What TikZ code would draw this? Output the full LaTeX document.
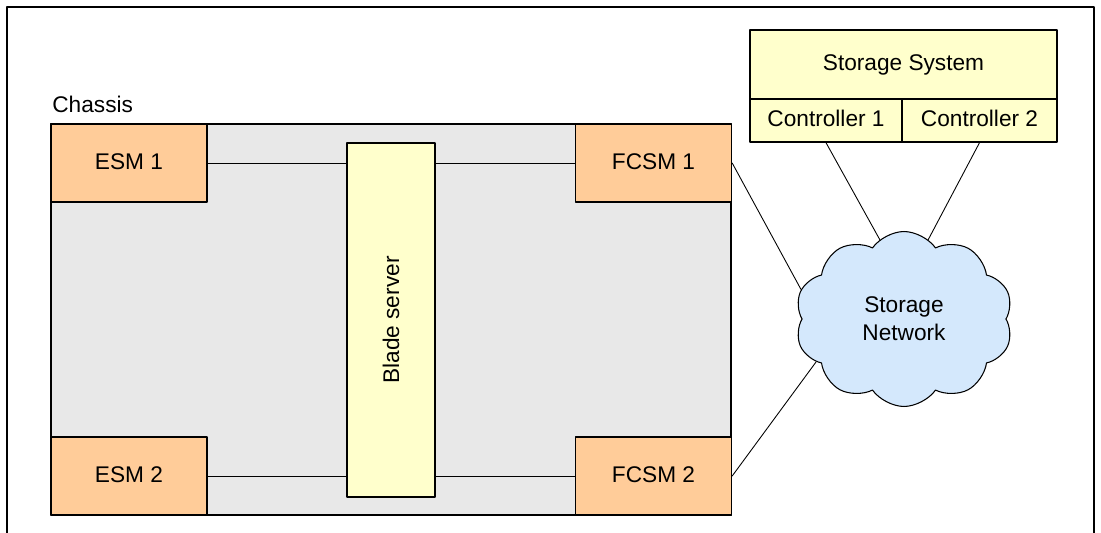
\documentclass[tikz,border=0pt]{standalone}
\usepackage{fontspec}
\setmainfont{Liberation Sans}
\usetikzlibrary{shapes.symbols}
\definecolor{modfill}{HTML}{FFCC99}
\definecolor{srvfill}{HTML}{FFFFCC}
\definecolor{chfill}{HTML}{E8E8E8}
\definecolor{netfill}{HTML}{D4E8FC}
\tikzset{
  box/.style={draw=black, line width=0.8pt, inner sep=0pt, text height=0.72em, text depth=0pt,
              font=\fontsize{12.9}{15}\selectfont},
  module/.style={box, fill=modfill, minimum width=3.12cm, minimum height=1.56cm},
  ctrl/.style={box, fill=srvfill, minimum height=0.86cm},
  wire/.style={draw=black, line width=0.5pt}
}
\begin{document}
\begin{tikzpicture}[x=0.02cm, y=-0.02cm, line cap=round, line join=round]
  % Page size in pixels of the reference
  \def\pw{1101} \def\ph{533}
  \useasboundingbox (0,0) rectangle (\pw,\ph);

  % Open frame (no bottom edge)
  \draw[line width=0.7pt] (7,\ph) -- (7,7) -- (1094,7) -- (1094,\ph);

  % Chassis with its label
  \node[box, fill=chfill, minimum width=13.6cm, minimum height=7.82cm] (chassis) at (391,319.5) {};
  \node[anchor=base west, inner sep=0pt, font=\fontsize{12.9}{15}\selectfont] (chlabel) at (52,113) {Chassis};

  % Switch modules in the four corners
  \node[module] (esm1) at (129,163) {ESM 1};
  \node[module] (esm2) at (129,476) {ESM 2};
  \node[module] (fcsm1) at (653.5,163) {FCSM 1};
  \node[module] (fcsm2) at (653.5,476) {FCSM 2};

  % Blade server in the middle
  \node[box, fill=srvfill, minimum width=1.76cm, minimum height=7.08cm] (blade) at (391,320) {};
  \node[rotate=90, font=\fontsize{12.9}{15}\selectfont] (bladetxt) at (blade.center) {Blade server};

  % Storage system and its two controllers
  \node[box, fill=srvfill, minimum width=6.14cm, minimum height=1.38cm] (storage) at (903.5,64.5) {Storage System};
  \node[ctrl, minimum width=3.04cm] (ctrl1) at (826,120.5) {Controller 1};
  \node[ctrl, minimum width=3.1cm] (ctrl2) at (979.5,120.5) {Controller 2};

  % Storage network cloud
  \node[cloud, cloud puffs=10, cloud puff arc=110, aspect=1.25, draw=black, line width=0.6pt,
        fill=netfill, minimum width=4.36cm, minimum height=3.5cm, inner sep=0pt, align=center,
        font=\fontsize{12.9}{15.9}\selectfont] (net) at (904,319) {Storage\\Network};

  % Links inside the chassis
  \draw[wire] (esm1.east) -- (esm1.east -| blade.west);
  \draw[wire] (esm2.east) -- (esm2.east -| blade.west);
  \draw[wire] (blade.east |- fcsm1.west) -- (fcsm1.west);
  \draw[wire] (blade.east |- fcsm2.west) -- (fcsm2.west);

  % Links to the storage network
  \draw[wire] (fcsm1.east) -- (net.164);
  \draw[wire] (fcsm2.east) -- (net.206);
  \draw[wire] (ctrl1.south) -- (net.107);
  \draw[wire] (ctrl2.south) -- (net.73);
\end{tikzpicture}
\end{document}
